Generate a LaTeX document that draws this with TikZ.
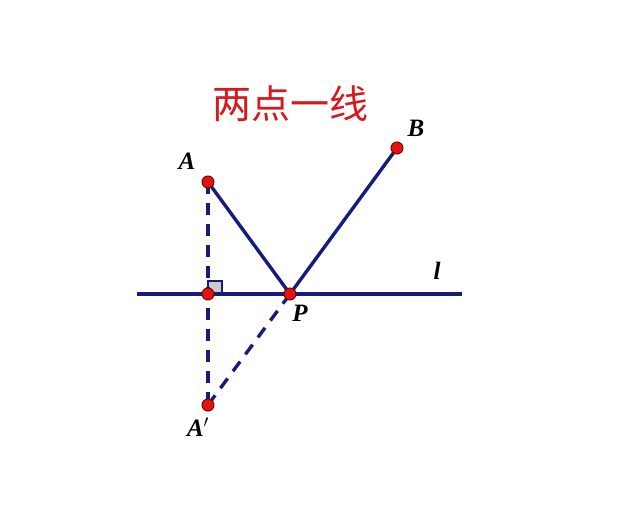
\documentclass[tikz,border=0pt]{standalone}
\usepackage{fontspec}
\setmainfont{Liberation Serif}
\newfontfamily\cjk{Noto Sans CJK SC}
\begin{document}
\begin{tikzpicture}[x=1pt,y=-1pt,
  seg/.style={line width=3.4pt,color=navy},
  dsh/.style={line width=3.4pt,color=navy,dash pattern=on 12pt off 9pt},
  pt/.style={circle,fill=ptred,draw=ptdark,line width=1pt,minimum size=12pt,inner sep=0pt},
  lbl/.style={font=\fontsize{25}{25}\selectfont\bfseries\itshape,inner sep=0pt}]
\definecolor{navy}{RGB}{22,28,120}
\definecolor{ptred}{RGB}{225,20,20}
\definecolor{ptdark}{RGB}{130,0,0}
\definecolor{titlered}{RGB}{215,25,30}
\useasboundingbox (0,0) rectangle (640,504);
\fill[white] (0,0) rectangle (640,504);
\coordinate (Lstart) at (137,294);
\coordinate (Lend) at (462,294);
\coordinate (A) at (208,182);
\coordinate (B) at (397,148);
\coordinate (P) at (290,294);
\coordinate (Ap) at (208,405);
\coordinate (F) at (208,294);
% right angle mark
\filldraw[fill=gray!40,draw=navy,line width=1.8pt] (F) rectangle (222,281);
\draw[seg] (Lstart) -- (Lend);
\draw[seg] (A) -- (P) -- (B);
\draw[dsh] (A) -- (Ap);
\draw[dsh] (Ap) -- (P);
\node[pt] (nA) at (A) {};
\node[pt] (nB) at (B) {};
\node[pt] (nP) at (P) {};
\node[pt] (nAp) at (Ap) {};
\node[pt] (nF) at (F) {};
\node[lbl] (tA) at (187,161) {A};
\node[lbl] (tB) at (416,128) {B};
\node[lbl] (tl) at (437,271) {l};
\node[lbl] (tP) at (300,313) {P};
\node[lbl] (tAp) at (198,427) {A$'$};
\node[font=\cjk\fontsize{39}{39}\selectfont,text=titlered,inner sep=0pt] (title) at (290,104) {两点一线};
\end{tikzpicture}
\end{document}
